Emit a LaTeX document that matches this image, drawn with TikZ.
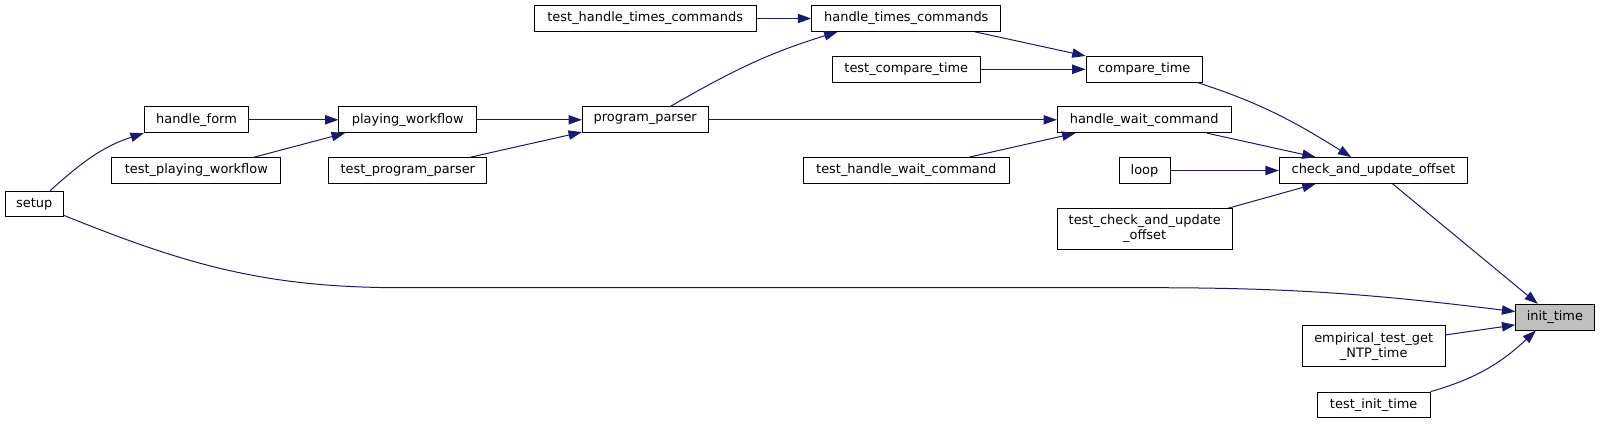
\documentclass[tikz,border=0pt]{standalone}
\usepackage{fontspec}
\setmainfont{DejaVu Sans}
\usepackage{tikz}
\usetikzlibrary{arrows.meta}

\definecolor{edgeblue}{HTML}{191970}
\definecolor{rootgray}{HTML}{BFBFBF}

\begin{document}
\begin{tikzpicture}[
		x=0.75pt, y=0.75pt,
		>={Triangle[length=10pt,width=7pt]},
		func node/.style={draw, line width=0.75pt, fill=white, inner sep=0pt,
			align=center, font=\fontsize{9.7}{11.3}\selectfont, minimum height=19.3pt},
		tall node/.style={func node, minimum height=30.5pt},
		root node/.style={func node, fill=rootgray},
		wd/.style={minimum width=#1*0.75pt},
		call/.style={->, color=edgeblue, line width=0.75pt}
		]
		
		\useasboundingbox (0,0) rectangle (1601,-424);
		
		\node[func node, wd=58.3] (setup) at (34.2,-204) {setup};
		\node[func node, wd=104.4] (hform) at (196.5,-119.8) {handle\_form};
		\node[func node, wd=169.3] (tpw) at (196.3,-170.5) {test\_playing\_workflow};
		\node[func node, wd=137.7] (pw) at (407.8,-119.8) {playing\_workflow};
		\node[func node, wd=157.7] (tpp) at (407.8,-170.5) {test\_program\_parser};
		\node[func node, wd=125.7] (pp) at (645.2,-119.8) {program\_parser};
		\node[func node, wd=221.7] (thtc) at (645.2,-18.5) {test\_handle\_times\_commands};
		\node[func node, wd=189.3] (htc) at (906.3,-18.5) {handle\_times\_commands};
		\node[func node, wd=148] (tct) at (906.3,-69.3) {test\_compare\_time};
		\node[func node, wd=205.7] (thwc) at (906.2,-170.5) {test\_handle\_wait\_command};
		\node[func node, wd=116.3] (ct) at (1144.2,-69.3) {compare\_time};
		\node[func node, wd=173.7] (hwc) at (1144.2,-119.8) {handle\_wait\_command};
		\node[func node, wd=51] (loop) at (1144.5,-170.5) {loop};
		\node[tall node, wd=174.7] (tcuo) at (1144.7,-229) {test\_check\_and\_update\\\_offset};
		\node[func node, wd=188.4] (cuo) at (1373.5,-170.5) {check\_and\_update\_offset};
		\node[tall node, wd=142.7] (etg) at (1373.7,-346.3) {empirical\_test\_get\\\_NTP\_time};
		\node[func node, wd=112.7] (tit) at (1373.7,-405) {test\_init\_time};
		\node[root node, wd=78.3] (it) at (1554.9,-317.2) {init\_time};
		
		\coordinate (s1) at (402,-287.7);
		\coordinate (s2) at (1148,-287.7);
		
		\path[call]
		(thtc) edge (htc)
		(tct) edge (ct)
		(hform) edge (pw)
		(pw) edge (pp)
		(pp) edge (hwc)
		(loop) edge (cuo)
		(pp.28.4) edge[out=30, in=197] (htc.191.8)
		(htc.-11.8) edge (ct.north west)
		(tpp.12) edge (pp.191)
		(tpw.13.4) edge (pw.192.5)
		(setup.40.4) edge[out=42, in=198] (hform.south west)
		(thwc.12) edge (hwc.191.9)
		(ct.-14.2) edge[out=-18, in=148] (cuo.149.5)
		(hwc.-12.3) edge (cuo.167.3)
		(tcuo.14.5) edge (cuo.193.5)
		(cuo.-35.2) edge (it.142.3)
		(etg.9.6) edge (it.191.3)
		(tit.north east) edge[out=16, in=223] (it.215.2);
		\draw[call] (setup.-21) to[out=-22, in=180] (s1) -- (s2) to[out=0, in=173] (it.172);
	\end{tikzpicture}
\end{document}
